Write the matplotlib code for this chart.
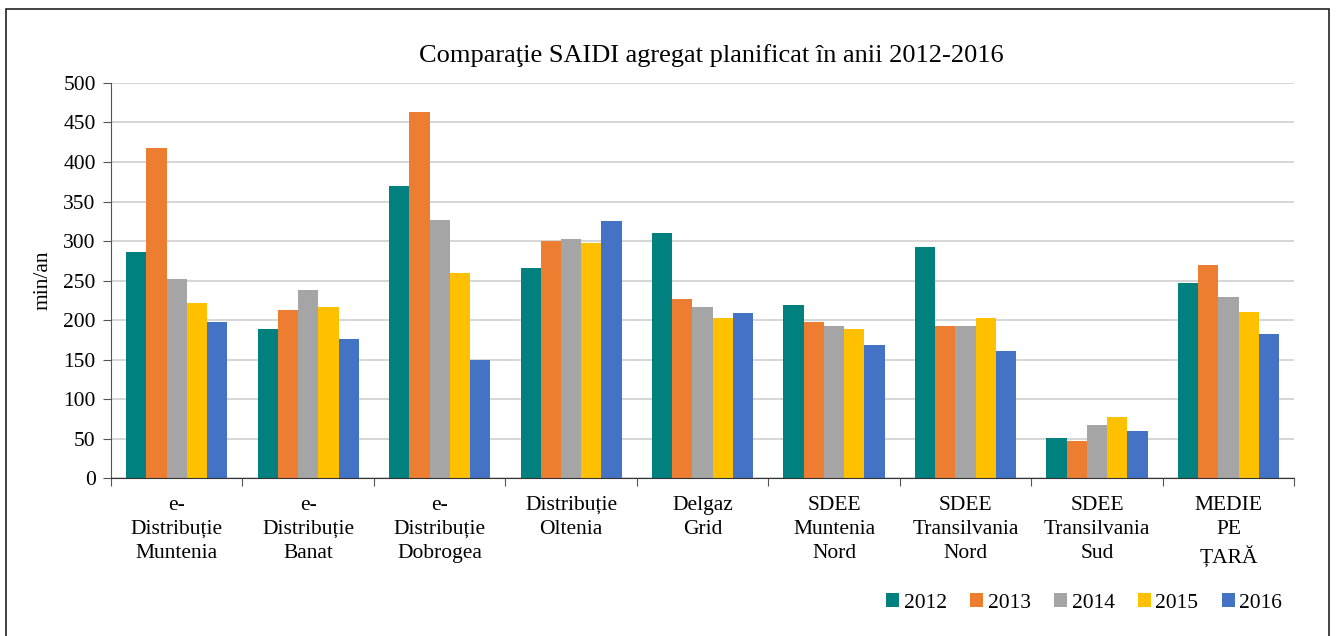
import numpy as np
import matplotlib.pyplot as plt
from matplotlib.patches import Rectangle

plt.rcParams['font.family'] = ['Liberation Serif', 'DejaVu Serif']

CATEGORIES = ['e-\nDistribuție\nMuntenia', 'e-\nDistribuție\nBanat',
              'e-\nDistribuție\nDobrogea', 'Distribuție\nOltenia',
              'Delgaz\nGrid', 'SDEE\nMuntenia\nNord',
              'SDEE\nTransilvania\nNord', 'SDEE\nTransilvania\nSud',
              'MEDIE\nPE\nȚARĂ']
YEARS = ['2012', '2013', '2014', '2015', '2016']

SAIDI_2012 = [286, 189, 370, 266, 310, 219, 293, 51, 247]
SAIDI_2013 = [418, 213, 463, 300, 226, 198, 193, 47, 269]
SAIDI_2014 = [252, 238, 326, 303, 217, 193, 193, 67, 229]
SAIDI_2015 = [221, 217, 260, 298, 202, 189, 202, 77, 210]
SAIDI_2016 = [198, 176, 150, 325, 209, 168, 161, 60, 182]

SERIES = [SAIDI_2012, SAIDI_2013, SAIDI_2014, SAIDI_2015, SAIDI_2016]
COLOURS = ['#00807f', '#ed7d31', '#a5a5a5', '#ffc000', '#4472c4']

fig = plt.figure(figsize=(13.37, 6.36), dpi=100)
ax = fig.add_axes([0.083, 0.2484, 0.885, 0.6211])

# outer frame of the chart area
fig.patches.append(Rectangle((6 / 1337, -0.02), 1323 / 1337, 1 - 9 / 636 + 0.02,
                             transform=fig.transFigure, fill=False,
                             edgecolor='#222222', linewidth=1.2))

x = np.arange(len(CATEGORIES))
width = 0.154
for i, (values, colour, year) in enumerate(zip(SERIES, COLOURS, YEARS)):
    ax.bar(x + (i - 2) * width, values, width, color=colour, label=year,
           zorder=2)

ax.set_xlim(-0.5, len(CATEGORIES) - 0.5)
ax.set_ylim(0, 500)
ax.set_yticks(np.arange(0, 501, 50))
ax.grid(axis='y', color='#d0d0d0', linewidth=1.2, zorder=0)
ax.set_xticks(np.arange(-0.5, len(CATEGORIES), 1), minor=False)
ax.set_xticklabels([])
ax.set_xticks(x, minor=True)
ax.set_xticklabels(CATEGORIES, minor=True, fontsize=15.5, linespacing=1.35)
ax.tick_params(axis='x', which='minor', length=0, pad=13)
ax.tick_params(axis='x', which='major', length=6, color='#555555')
ax.tick_params(axis='y', labelsize=15.5, length=6, color='#555555', pad=5)

for side in ['top', 'right']:
    ax.spines[side].set_visible(False)
ax.spines['left'].set_color('#555555')
ax.spines['bottom'].set_color('#333333')

ax.set_ylabel('min/an', fontsize=15.5, labelpad=8)
fig.text(0.532, 0.912, 'Comparaţie SAIDI agregat planificat în anii 2012-2016',
         ha='center', va='center', fontsize=19)

fig.legend(loc='center right', bbox_to_anchor=(0.9735, 0.052), ncol=5,
           frameon=False, fontsize=15.5, handlelength=0.6, handleheight=0.6,
           handletextpad=0.2, columnspacing=1.1)

fig.savefig('out.png', dpi=100)
